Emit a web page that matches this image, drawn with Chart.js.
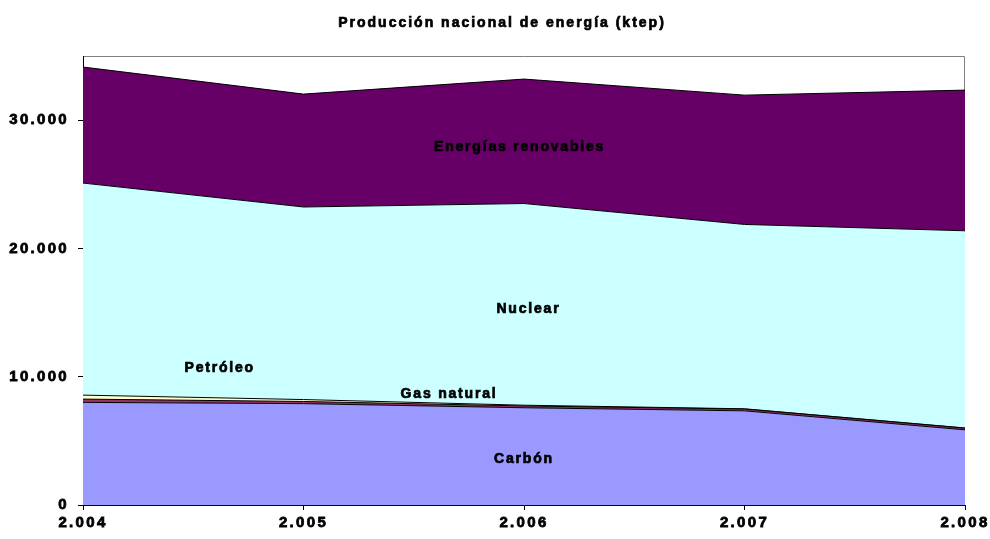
<!DOCTYPE html>
<html>
<head>
<meta charset="utf-8">
<script src="https://cdn.jsdelivr.net/npm/chart.js@4"></script>
<style>
html,body{margin:0;padding:0;background:#fff;}
#wrap{width:990px;height:539px;}
</style>
</head>
<body>
<div id="wrap"><canvas id="c" width="990" height="539"></canvas></div>
<script>
const years = ['2.004', '2.005', '2.006', '2.007', '2.008'];
const carbon = [8000, 7900, 7580, 7340, 5860];
const petroleo = [255, 170, 140, 140, 130];
const gasNatural = [310, 150, 60, 20, 15];
const nuclear = [16530, 15010, 15720, 14370, 15370];
const renovables = [9045, 8800, 9700, 10080, 10965];
const yTicks = [0, 10000, 20000, 30000];
const seriesNames = ['Carbón', 'Petróleo', 'Gas natural', 'Nuclear', 'Energías renovables'];
const titleText = 'Producción nacional de energía (ktep)';
// in-chart labels: [text, category position, value]
const areaLabels = [
  ['Energías renovables', 1.98, 27890],
  ['Nuclear', 2.02, 15230],
  ['Petróleo', 0.62, 10700],
  ['Gas natural', 1.66, 8670],
  ['Carbón', 2.0, 3590]
];

const FONT = "'Liberation Sans', Arial, sans-serif";
const TICK_SPACING = '2.3px';
const colors = ['#9999FF', '#993366', '#FFFFCC', '#CCFFFF', '#660066'];
const seriesData = [carbon, petroleo, gasNatural, nuclear, renovables];

function fmt(v) {
  return String(v).replace(/\B(?=(\d{3})+(?!\d))/g, '.');
}

function heavyText(ctx, t, x, y) {
  ctx.strokeText(t, x, y);
  ctx.fillText(t, x, y);
}

const extrasPlugin = {
  id: 'extras',
  beforeLayout(chart) { chart.ctx.letterSpacing = TICK_SPACING; },
  beforeDraw(chart) {
    const {ctx, chartArea: a} = chart;
    ctx.letterSpacing = TICK_SPACING;
    ctx.save();
    ctx.strokeStyle = '#808080';
    ctx.lineWidth = 1;
    ctx.beginPath();
    ctx.moveTo(a.left, a.top + 0.5);
    ctx.lineTo(a.right - 0.5, a.top + 0.5);
    ctx.lineTo(a.right - 0.5, a.bottom);
    ctx.stroke();
    // title
    ctx.letterSpacing = '2px';
    ctx.font = 'bold 14px ' + FONT;
    ctx.fillStyle = '#000';
    ctx.strokeStyle = '#000';
    ctx.lineWidth = 0.7;
    ctx.textAlign = 'center';
    ctx.textBaseline = 'middle';
    heavyText(ctx, titleText, 502, 23);
    ctx.restore();
  },
  afterDatasetsDraw(chart) {
    const {ctx} = chart;
    const xs = chart.scales.x, ys = chart.scales.y;
    ctx.save();
    ctx.letterSpacing = '1.8px';
    ctx.font = 'bold 14px ' + FONT;
    ctx.fillStyle = '#000';
    ctx.strokeStyle = '#000';
    ctx.lineWidth = 0.7;
    ctx.textAlign = 'center';
    ctx.textBaseline = 'middle';
    areaLabels.forEach(([t, xi, v]) => {
      heavyText(ctx, t, xs.getPixelForValue(xi), ys.getPixelForValue(v));
    });
    ctx.restore();
  }
};

new Chart(document.getElementById('c'), {
  type: 'line',
  data: {
    labels: years,
    datasets: seriesData.map((d, i) => ({
      label: seriesNames[i],
      data: d,
      backgroundColor: colors[i],
      borderColor: '#000',
      borderWidth: 1,
      pointRadius: 0,
      tension: 0,
      fill: i === 0 ? 'origin' : '-1'
    }))
  },
  options: {
    responsive: false,
    animation: false,
    devicePixelRatio: 1,
    layout: { padding: { left: 0, right: 25, top: 56, bottom: 0 } },
    plugins: {
      legend: { display: false },
      tooltip: { enabled: false },
      title: { display: false }
    },
    scales: {
      x: {
        type: 'category',
        offset: false,
        grid: { display: true, drawOnChartArea: false, drawTicks: true, tickLength: 5, color: '#000' },
        border: { display: true, color: '#000', width: 1 },
        ticks: { color: '#000', font: { family: FONT, size: 15, weight: 'bold' }, padding: 4, maxRotation: 0, autoSkip: false, textStrokeColor: '#000', textStrokeWidth: 0.8 },
        afterFit(s) { s.height = 34; s.paddingLeft = 0; s.paddingRight = 0; }
      },
      y: {
        stacked: true,
        min: 0,
        max: 35000,
        afterBuildTicks(s) { s.ticks = yTicks.map(v => ({ value: v })); },
        grid: { display: true, drawOnChartArea: false, drawTicks: true, tickLength: 5, color: '#000' },
        border: { display: true, color: '#000', width: 1 },
        ticks: { color: '#000', font: { family: FONT, size: 15, weight: 'bold' }, padding: 9, callback: v => fmt(v), textStrokeColor: '#000', textStrokeWidth: 0.8 },
        afterFit(s) { s.width = 83; s.paddingTop = 0; s.paddingBottom = 0; }
      }
    }
  },
  plugins: [extrasPlugin]
});
</script>
</body>
</html>
